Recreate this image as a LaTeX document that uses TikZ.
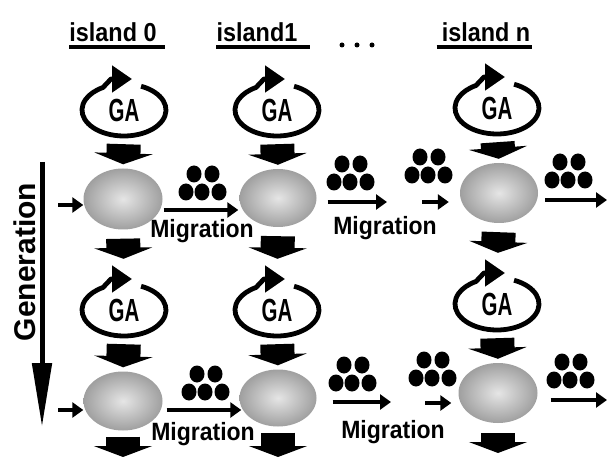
\documentclass[tikz,border=0pt]{standalone}
\usepackage{fontspec}
\setmainfont{Liberation Sans}
\usepackage{graphicx}
\usetikzlibrary{arrows.meta,shapes.geometric,calc}
\newcommand\condtxt[2]{\scalebox{#1}[1]{#2}}
\tikzset{
  hdr/.style={font=\fontsize{26pt}{30pt}\selectfont\bfseries, inner sep=0pt, anchor=base},
  uline/.style={line width=4pt},
  gatext/.style={font=\fontsize{32pt}{32pt}\selectfont\bfseries, inner sep=0pt, minimum width=84pt, minimum height=52pt},
  migtext/.style={font=\fontsize{25pt}{28pt}\selectfont\bfseries, inner sep=0pt, anchor=base},
  gentext/.style={font=\fontsize{30pt}{32pt}\selectfont\bfseries, inner sep=0pt, rotate=90},
  pop/.style={ellipse, inner sep=0pt, minimum width=79pt, minimum height=61pt, shading=radial, inner color=gray!20, outer color=gray!75},
  fatdown/.style={line width=34pt, -{Triangle[length=11pt,width=58pt]}},
  thinarr/.style={line width=4.5pt, -{Triangle[length=11pt,width=15pt]}},
  galoop/.pic={
    \draw[line width=4.8pt, line join=round, -{Triangle[length=20pt,width=26pt]}]
      (66:42 and 26) arc[start angle=66, end angle=-240, x radius=42, y radius=26] -- (-13,31) -- (8,31);
  },
  dotgroup/.pic={
    \fill (-8,10) ellipse[x radius=7.5, y radius=8.5];
    \fill (10,10) ellipse[x radius=7.5, y radius=8.5];
    \fill (-16,-8) ellipse[x radius=7.5, y radius=8.5];
    \fill (0,-8) ellipse[x radius=7.5, y radius=8.5];
    \fill (17,-8) ellipse[x radius=7.5, y radius=8.5];
  }
}
\begin{document}
\begin{tikzpicture}[yscale=-1, x=1pt, y=1pt]
\useasboundingbox[fill=white] (0,0) rectangle (608,457);

% headers
\node[hdr] (h0) at (113,42) {\condtxt{0.9}{island 0}};
\node[hdr] (h1) at (257,42) {\condtxt{0.9}{island1}};
\node[hdr] (hn) at (486,42) {\condtxt{0.9}{island n}};
\draw[uline] ($(h0.base west)+(0,5)$) -- ($(h0.base east)+(8,5)$);
\draw[uline] ($(h1.base west)+(0,5)$) -- ($(h1.base east)+(12,5)$);
\draw[uline] ($(hn.base west)+(-5,5)$) -- ($(hn.base east)+(2,5)$);
\coordinate (dd) at (357,45);
\fill ($(dd)+(-15,0)$) circle[radius=2.5] (dd) circle[radius=2.5] ($(dd)+(15,0)$) circle[radius=2.5];

% generation
\node[gentext] (gen) at (25,262) {Generation};
\coordinate (gtop) at (42,162);
\coordinate (gbot) at (42,427);
\draw[line width=5pt, -{Triangle[length=64pt,width=19pt]}] (gtop) -- (gbot);

% GA loops row 1
\node[gatext] (g00) at (124,110) {\condtxt{0.64}{GA}};
\node[gatext] (g01) at (277,110) {\condtxt{0.64}{GA}};
\node[gatext] (g0n) at (497,108) {\condtxt{0.64}{GA}};
\pic at (g00) {galoop};
\pic at (g01) {galoop};
\pic at (g0n) {galoop};
% populations row 1
\node[pop] (e00) at (123,199) {};
\node[pop, minimum width=77pt, minimum height=58pt] (e01) at (278,198) {};
\node[pop, minimum width=78pt, minimum height=60pt] (e0n) at (499,193) {};
% GA loops row 2
\node[gatext] (g10) at (124,310) {\condtxt{0.64}{GA}};
\node[gatext] (g11) at (277,310) {\condtxt{0.64}{GA}};
\node[gatext] (g1n) at (497,304) {\condtxt{0.64}{GA}};
\pic at (g10) {galoop};
\pic at (g11) {galoop};
\pic at (g1n) {galoop};
% populations row 2
\node[pop, minimum height=59pt] (e10) at (123,401) {};
\node[pop, minimum width=77pt, minimum height=57pt] (e11) at (278,398) {};
\node[pop, minimum width=79pt, minimum height=60pt] (e1n) at (498,393) {};

% fat vertical arrows
\foreach \g/\e in {g00/e00, g01/e01, g0n/e0n, g10/e10, g11/e11, g1n/e1n}
  \draw[fatdown, shorten <=8pt, shorten >=4pt] (\g.south) -- (\e.north);
\foreach \e/\g in {e00/g10, e01/g11, e0n/g1n}
  \draw[fatdown, shorten <=9pt, shorten >=25pt] (\e.south) -- (\g.north);
\coordinate (b0) at (123,457);
\coordinate (b1) at (278,457);
\coordinate (bn) at (498,453);
\draw[fatdown, shorten <=6pt] (e10.south) -- (b0);
\draw[fatdown, shorten <=6pt] (e11.south) -- (b1);
\draw[fatdown, shorten <=10pt] (e1n.south) -- (bn);

% horizontal arrows row 1
\coordinate (in0) at (58,205);
\draw[thinarr] (in0) -- (in0 -| e00.west);
\draw[thinarr] ($(e00.east)+(1,11)$) -- ($(e01.west)+(-1,12)$);
\coordinate (m01) at (387,202);
\draw[thinarr] ($(e01.east)+(11,4)$) -- (m01);
\coordinate (s01) at (422,202);
\draw[thinarr] (s01) -- ($(e0n.west)+(-11,9)$);
\coordinate (o0) at (607,200);
\draw[thinarr] ($(e0n.east)+(7,7)$) -- (o0);

% horizontal arrows row 2
\coordinate (in1) at (58,410);
\draw[thinarr] (in1) -- (in1 -| e10.west);
\draw[thinarr] ($(e10.east)+(4,9)$) -- ($(e11.west)+(2,12)$);
\coordinate (m11) at (391,402);
\draw[thinarr] ($(e11.east)+(16,4)$) -- (m11);
\coordinate (s11) at (425,403);
\draw[thinarr] (s11) -- ($(e1n.west)+(-7,10)$);
\coordinate (o1) at (607,400);
\draw[thinarr] ($(e1n.east)+(13,7)$) -- (o1);

% migrating individuals
\pic at (202,184) {dotgroup};
\pic at (350,174) {dotgroup};
\pic at (428,167) {dotgroup};
\pic at (568,172) {dotgroup};
\pic at (205,384) {dotgroup};
\pic at (352,375) {dotgroup};
\pic at (432,370) {dotgroup};
\pic at (570,372) {dotgroup};

% migration labels
\node[migtext] (mig0) at (202,238) {\condtxt{0.92}{Migration}};
\node[migtext] (mig1) at (385,235) {\condtxt{0.92}{Migration}};
\node[migtext] (mig2) at (203,440) {\condtxt{0.92}{Migration}};
\node[migtext] (mig3) at (393,438) {\condtxt{0.92}{Migration}};
\end{tikzpicture}
\end{document}
